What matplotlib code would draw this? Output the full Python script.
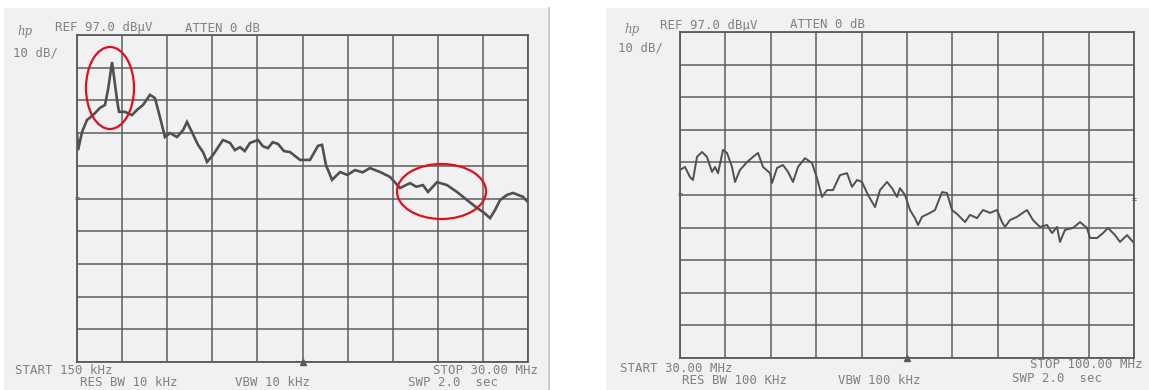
import matplotlib
matplotlib.use("Agg")
import matplotlib.pyplot as plt
from matplotlib.patches import Rectangle, Ellipse

# ---- sweep 1: 150 kHz .. 30 MHz, RBW 10 kHz ----
freq_low_mhz = [0.15, 0.22, 0.48, 0.81, 1.21, 1.67, 2.00, 2.20, 2.47, 2.60,
                2.80, 2.93, 3.33, 3.79, 4.12, 4.52, 4.98, 5.31, 5.64, 5.97,
                6.31, 6.77, 7.17, 7.43, 7.76, 8.16, 8.49, 8.76, 9.15, 9.81,
                10.28, 10.60, 10.94, 11.25, 11.60, 12.13, 12.45, 12.79, 13.10, 13.45,
                13.85, 14.25, 14.91, 15.57, 16.10, 16.37, 16.63, 17.03, 17.56, 18.05,
                18.55, 19.05, 19.54, 20.21, 20.87, 21.53, 22.19, 22.60, 23.05, 23.38,
                23.98, 24.64, 25.30, 25.97, 26.63, 27.02, 27.49, 27.82, 28.15, 28.61,
                29.01, 29.67, 30.00]
level_low_dbuv = [67.0, 61.8, 67.3, 71.0, 72.5, 74.7, 75.6, 80.2, 88.7, 84.2,
                  77.1, 73.5, 73.5, 72.5, 74.1, 75.6, 78.7, 77.7, 71.9, 65.8,
                  67.0, 65.8, 67.9, 70.4, 67.3, 63.4, 61.2, 58.2, 60.3, 64.9,
                  64.0, 61.8, 62.7, 61.5, 64.0, 64.9, 63.0, 62.4, 64.2, 63.7,
                  61.5, 61.2, 58.8, 58.8, 63.1, 63.4, 57.2, 52.7, 55.1, 54.2,
                  55.7, 55.0, 56.3, 55.1, 53.6, 50.2, 51.7, 50.6, 51.1, 49.0,
                  52.0, 51.1, 49.0, 46.5, 44.1, 42.9, 41.0, 43.5, 46.5, 48.1,
                  48.7, 47.5, 45.9]

# ---- sweep 2: 30 MHz .. 100 MHz, RBW 100 kHz ----
freq_high_mhz = [30.00, 30.77, 31.54, 32.00, 32.62, 33.39, 34.16, 34.93, 35.40, 35.86,
                 36.63, 37.25, 38.02, 38.48, 39.25, 40.33, 41.26, 42.03, 42.80, 43.88,
                 44.19, 44.96, 45.88, 46.65, 47.42, 48.19, 49.27, 50.35, 51.12, 51.89,
                 52.67, 53.59, 54.67, 55.75, 56.52, 57.29, 58.06, 58.99, 60.07, 60.84,
                 61.92, 62.69, 63.46, 63.92, 64.69, 65.46, 66.23, 66.70, 67.31, 68.55,
                 69.32, 70.40, 71.17, 71.94, 72.86, 73.94, 74.71, 75.79, 76.72, 77.80,
                 78.88, 79.65, 80.11, 80.88, 81.96, 83.50, 84.43, 85.51, 86.59, 87.36,
                 88.13, 88.59, 89.36, 90.60, 91.68, 92.75, 93.22, 94.30, 95.22, 95.99,
                 97.07, 97.84, 98.92, 99.85]
level_high_dbuv = [54.7, 55.6, 52.5, 51.6, 58.7, 60.2, 58.7, 54.1, 55.6, 53.7,
                   60.8, 59.9, 55.6, 51.0, 54.7, 57.1, 58.7, 59.9, 55.6, 53.7,
                   50.7, 55.3, 56.2, 54.1, 51.0, 55.6, 58.3, 56.8, 52.2, 46.4,
                   48.5, 48.5, 53.1, 53.7, 49.5, 51.6, 51.0, 47.0, 43.3, 48.5,
                   51.0, 49.1, 46.4, 49.1, 47.0, 42.4, 39.9, 37.8, 40.3, 41.5,
                   42.4, 47.9, 47.6, 42.4, 40.9, 38.7, 40.9, 39.9, 42.4, 41.5,
                   42.4, 38.7, 37.2, 39.3, 40.3, 42.4, 39.3, 37.2, 37.8, 35.3,
                   37.2, 32.6, 36.3, 36.9, 38.7, 36.9, 33.8, 33.8, 35.3, 36.9,
                   34.7, 32.6, 34.7, 32.6]

REF_LEVEL = 97.0
DB_PER_DIV = 10.0
N_DIV = 10

header_texts = ["REF 97.0 dB\u00b5V", "ATTEN 0 dB"]
scale_text = "10 dB/"
low_labels = {"start": "START 150 kHz", "stop": "STOP 30.00 MHz",
              "rbw": "RES BW 10 kHz", "vbw": "VBW 10 kHz", "swp": "SWP 2.0  sec"}
high_labels = {"start": "START 30.00 MHz", "stop": "STOP 100.00 MHz",
               "rbw": "RES BW 100 KHz", "vbw": "VBW 100 kHz", "swp": "SWP 2.0  sec"}

W, H = 1149, 390
fig = plt.figure(figsize=(W / 100, H / 100), dpi=100)
fig.patch.set_facecolor("white")

PAPER = "#f1f1f1"
GRID = "#5a5a5a"
TXT = "#808080"
TRACE = "#505050"


def fx(px):
    return px / W


def fy(py):
    return 1 - py / H


# printout paper backgrounds
fig.patches.append(Rectangle((fx(4), 0), fx(544), fy(8), transform=fig.transFigure,
                             facecolor=PAPER, edgecolor="none", zorder=-5))
fig.add_artist(plt.Line2D([fx(548.5), fx(548.5)], [0, fy(8)], transform=fig.transFigure,
                          color="#c4c4c4", lw=1.2, zorder=-4))
fig.patches.append(Rectangle((fx(606), 0), fx(543), fy(8), transform=fig.transFigure,
                             facecolor=PAPER, edgecolor="none", zorder=-5))


def make_screen(x0, x1, y0, y1, fstart, fstop):
    ax = fig.add_axes([fx(x0), fy(y1), fx(x1 - x0), (y1 - y0) / H])
    ax.set_zorder(2)
    ax.set_facecolor(PAPER)
    ax.set_xlim(fstart, fstop)
    ax.set_ylim(REF_LEVEL - N_DIV * DB_PER_DIV, REF_LEVEL)
    step = (fstop - fstart) / N_DIV
    ax.set_xticks([fstart + i * step for i in range(N_DIV + 1)])
    ax.set_yticks([REF_LEVEL - i * DB_PER_DIV for i in range(N_DIV + 1)])
    ax.tick_params(length=0, labelbottom=False, labelleft=False)
    ax.grid(True, color=GRID, lw=1.2, alpha=0.9)
    ax.set_axisbelow(True)
    for s in ax.spines.values():
        s.set_color(GRID)
        s.set_linewidth(1.3)
    # centre-frequency marker and reference-level marks
    ax.plot([0.5], [0.0], marker="^", ms=4, color=GRID, transform=ax.transAxes,
            clip_on=False)
    ax.text(0.0, 0.5, "=", transform=ax.transAxes, ha="center", va="center",
            fontsize=6, color=GRID, family="DejaVu Sans Mono")
    return ax


def put(px, py, s, **kw):
    opts = dict(fontsize=8.9, color=TXT, family="DejaVu Sans Mono", ha="left",
                va="center")
    opts.update(kw)
    fig.text(fx(px), fy(py), s, **opts)


# ---- left screen ----
axL = make_screen(77, 528, 35, 362, 0.15, 30.0)
axL.plot(freq_low_mhz, level_low_dbuv, color=TRACE, lw=1.9, solid_joinstyle="miter")

dpx_x = (30.0 - 0.15) / 451
dpx_y = DB_PER_DIV * N_DIV / 327
axL.add_patch(Ellipse((0.15 + 33 * dpx_x, REF_LEVEL - 53 * dpx_y), 48 * dpx_x, 82 * dpx_y,
                      fill=False, edgecolor="#e0101a", lw=1.6, clip_on=False, zorder=5))
axL.add_patch(Ellipse((0.15 + 364.5 * dpx_x, REF_LEVEL - 156.5 * dpx_y), 89 * dpx_x,
                      55 * dpx_y, fill=False, edgecolor="#e0101a", lw=1.6, clip_on=False,
                      zorder=5))

put(17, 31, "hp", family="DejaVu Serif", style="italic", fontsize=8.5)
put(55, 28, header_texts[0])
put(185, 28, header_texts[1])
put(13, 53, scale_text)
put(15, 370, low_labels["start"])
put(80, 382, low_labels["rbw"])
put(235, 382, low_labels["vbw"])
put(538, 370, low_labels["stop"], ha="right")
put(408, 382, low_labels["swp"])

# ---- right screen ----
axR = make_screen(680, 1134, 32, 358, 30.0, 100.0)
axR.plot(freq_high_mhz, level_high_dbuv, color=TRACE, lw=1.4, solid_joinstyle="round")
axR.text(1.0, 0.485, "=", transform=axR.transAxes, ha="center", va="center",
         fontsize=6, color=GRID, family="DejaVu Sans Mono")

put(624, 30, "hp", family="DejaVu Serif", style="italic", fontsize=8.5)
put(660, 25, header_texts[0])
put(790, 25, header_texts[1])
put(618, 48, scale_text)
put(620, 368, high_labels["start"])
put(682, 380, high_labels["rbw"])
put(838, 380, high_labels["vbw"])
put(1143, 365, high_labels["stop"], ha="right")
put(1012, 379, high_labels["swp"])

fig.savefig("out.png", dpi=100, facecolor=fig.get_facecolor())
